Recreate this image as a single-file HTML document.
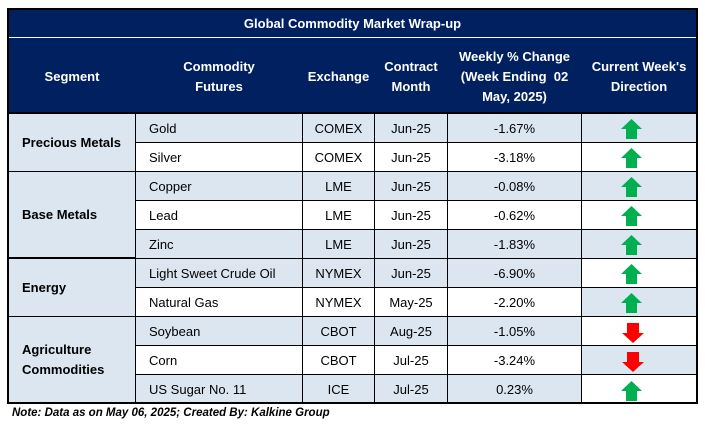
<!DOCTYPE html>
<html>
<head>
<meta charset="utf-8">
<style>
  html,body{margin:0;padding:0;background:#fff;}
  #c{position:relative;width:705px;height:424px;overflow:hidden;background:#fff;font-family:"Liberation Sans",Arial,sans-serif;color:#000;}
  .a{position:absolute;}
  .sh{position:absolute;background:#DCE6F1;}
  .hl{position:absolute;height:1px;background:#000;}
  .vl{position:absolute;width:1px;background:#000;}
  .hd{position:absolute;top:40px;height:74px;display:flex;align-items:center;justify-content:center;text-align:center;color:#fff;font-weight:bold;font-size:13px;line-height:20px;}
  .cell{position:absolute;height:28px;display:flex;align-items:center;font-size:13px;white-space:nowrap;}
  .ctr{justify-content:center;}
  .seg{position:absolute;left:22px;display:flex;align-items:center;font-weight:bold;font-size:13px;line-height:20px;}
  svg{position:absolute;}
</style>
</head>
<body>
<div id="c">
  <!-- navy title/header -->
  <div class="a" style="left:7px;top:8px;width:691px;height:105px;background:#002060;"></div>
  <div class="a" style="left:9px;top:37px;width:687px;height:1px;background:#fff;"></div>
  <div class="a" style="left:7px;top:10px;width:691px;height:27px;display:flex;align-items:center;justify-content:center;color:#fff;font-weight:bold;font-size:13px;">Global Commodity Market Wrap-up</div>

  <!-- headers -->
  <div class="hd" style="left:9px;width:126px;">Segment</div>
  <div class="hd" style="left:136px;width:166px;">Commodity<br>Futures</div>
  <div class="hd" style="left:303px;width:71px;">Exchange</div>
  <div class="hd" style="left:375px;width:72px;">Contract<br>Month</div>
  <div class="hd" style="left:448px;width:133px;">Weekly % Change<br>(Week Ending&nbsp; 02<br>May, 2025)</div>
  <div class="hd" style="left:582px;width:114px;">Current Week's<br>Direction</div>

  <!-- shading -->
  <div class="sh" style="left:9px;top:113px;width:126px;height:290px;"></div>
  <!-- rows 0,2,4,5,7,9 for commodity..change -->
  <div class="sh" style="left:136px;top:113px;width:445px;height:29px;"></div>
  <div class="sh" style="left:136px;top:171px;width:445px;height:29px;"></div>
  <div class="sh" style="left:136px;top:229px;width:445px;height:58px;"></div>
  <div class="sh" style="left:136px;top:316px;width:445px;height:29px;"></div>
  <div class="sh" style="left:136px;top:374px;width:445px;height:29px;"></div>
  <!-- direction rows 0,2,4,6,8 -->
  <div class="sh" style="left:582px;top:113px;width:114px;height:29px;"></div>
  <div class="sh" style="left:582px;top:171px;width:114px;height:29px;"></div>
  <div class="sh" style="left:582px;top:229px;width:114px;height:29px;"></div>
  <div class="sh" style="left:582px;top:287px;width:114px;height:29px;"></div>
  <div class="sh" style="left:582px;top:345px;width:114px;height:29px;"></div>

  <!-- header bottom line -->
  <div class="a" style="left:7px;top:112px;width:691px;height:2px;background:#000;"></div>

  <!-- horizontal row lines (commodity..direction) -->
  <div class="hl" style="left:135px;top:142px;width:562px;"></div>
  <div class="hl" style="left:135px;top:171px;width:562px;"></div>
  <div class="hl" style="left:135px;top:200px;width:562px;"></div>
  <div class="hl" style="left:135px;top:229px;width:562px;"></div>
  <div class="hl" style="left:135px;top:258px;width:562px;"></div>
  <div class="hl" style="left:135px;top:287px;width:562px;"></div>
  <div class="hl" style="left:135px;top:316px;width:562px;"></div>
  <div class="hl" style="left:135px;top:345px;width:562px;"></div>
  <div class="hl" style="left:135px;top:374px;width:562px;"></div>
  <!-- segment section lines -->
  <div class="hl" style="left:7px;top:171px;width:129px;"></div>
  <div class="a" style="left:7px;top:257px;width:129px;height:2px;background:#000;"></div>
  <div class="hl" style="left:7px;top:316px;width:129px;"></div>

  <!-- vertical lines -->
  <div class="vl" style="left:135px;top:113px;height:290px;"></div>
  <div class="vl" style="left:302px;top:113px;height:290px;"></div>
  <div class="vl" style="left:374px;top:113px;height:290px;"></div>
  <div class="vl" style="left:447px;top:113px;height:290px;"></div>
  <div class="vl" style="left:581px;top:113px;height:290px;"></div>

  <!-- outer border -->
  <div class="a" style="left:7px;top:8px;width:691px;height:396px;border:2px solid #000;box-sizing:border-box;"></div>

  <!-- segment labels -->
  <div class="seg" style="top:114px;height:57px;">Precious Metals</div>
  <div class="seg" style="top:172px;height:86px;">Base Metals</div>
  <div class="seg" style="top:259px;height:57px;">Energy</div>
  <div class="seg" style="top:317px;height:86px;">Agriculture<br>Commodities</div>

  <!-- Row 0 Gold -->
  <div class="cell" style="left:149px;top:114px;">Gold</div>
  <div class="cell ctr" style="left:303px;width:71px;top:114px;">COMEX</div>
  <div class="cell ctr" style="left:375px;width:72px;top:114px;">Jun-25</div>
  <div class="cell ctr" style="left:448px;width:133px;top:114px;">-1.67%</div>
  <!-- Row 1 Silver -->
  <div class="cell" style="left:149px;top:143px;">Silver</div>
  <div class="cell ctr" style="left:303px;width:71px;top:143px;">COMEX</div>
  <div class="cell ctr" style="left:375px;width:72px;top:143px;">Jun-25</div>
  <div class="cell ctr" style="left:448px;width:133px;top:143px;">-3.18%</div>
  <!-- Row 2 Copper -->
  <div class="cell" style="left:149px;top:172px;">Copper</div>
  <div class="cell ctr" style="left:303px;width:71px;top:172px;">LME</div>
  <div class="cell ctr" style="left:375px;width:72px;top:172px;">Jun-25</div>
  <div class="cell ctr" style="left:448px;width:133px;top:172px;">-0.08%</div>
  <!-- Row 3 Lead -->
  <div class="cell" style="left:149px;top:201px;">Lead</div>
  <div class="cell ctr" style="left:303px;width:71px;top:201px;">LME</div>
  <div class="cell ctr" style="left:375px;width:72px;top:201px;">Jun-25</div>
  <div class="cell ctr" style="left:448px;width:133px;top:201px;">-0.62%</div>
  <!-- Row 4 Zinc -->
  <div class="cell" style="left:149px;top:230px;">Zinc</div>
  <div class="cell ctr" style="left:303px;width:71px;top:230px;">LME</div>
  <div class="cell ctr" style="left:375px;width:72px;top:230px;">Jun-25</div>
  <div class="cell ctr" style="left:448px;width:133px;top:230px;">-1.83%</div>
  <!-- Row 5 Crude -->
  <div class="cell" style="left:149px;top:259px;">Light Sweet Crude Oil</div>
  <div class="cell ctr" style="left:303px;width:71px;top:259px;">NYMEX</div>
  <div class="cell ctr" style="left:375px;width:72px;top:259px;">Jun-25</div>
  <div class="cell ctr" style="left:448px;width:133px;top:259px;">-6.90%</div>
  <!-- Row 6 NatGas -->
  <div class="cell" style="left:149px;top:288px;">Natural Gas</div>
  <div class="cell ctr" style="left:303px;width:71px;top:288px;">NYMEX</div>
  <div class="cell ctr" style="left:375px;width:72px;top:288px;">May-25</div>
  <div class="cell ctr" style="left:448px;width:133px;top:288px;">-2.20%</div>
  <!-- Row 7 Soybean -->
  <div class="cell" style="left:149px;top:317px;">Soybean</div>
  <div class="cell ctr" style="left:303px;width:71px;top:317px;">CBOT</div>
  <div class="cell ctr" style="left:375px;width:72px;top:317px;">Aug-25</div>
  <div class="cell ctr" style="left:448px;width:133px;top:317px;">-1.05%</div>
  <!-- Row 8 Corn -->
  <div class="cell" style="left:149px;top:346px;">Corn</div>
  <div class="cell ctr" style="left:303px;width:71px;top:346px;">CBOT</div>
  <div class="cell ctr" style="left:375px;width:72px;top:346px;">Jul-25</div>
  <div class="cell ctr" style="left:448px;width:133px;top:346px;">-3.24%</div>
  <!-- Row 9 Sugar -->
  <div class="cell" style="left:149px;top:375px;">US Sugar No. 11</div>
  <div class="cell ctr" style="left:303px;width:71px;top:375px;">ICE</div>
  <div class="cell ctr" style="left:375px;width:72px;top:375px;">Jul-25</div>
  <div class="cell ctr" style="left:448px;width:133px;top:375px;">0.23%</div>

  <!-- arrows -->
  <svg style="left:621px;top:119px;" width="21" height="20" viewBox="0 0 21 20"><polygon fill="#00B050" points="10.5,0 21,10 16,10 16,20 5,20 5,10 0,10"/></svg>
  <svg style="left:621px;top:148px;" width="21" height="20" viewBox="0 0 21 20"><polygon fill="#00B050" points="10.5,0 21,10 16,10 16,20 5,20 5,10 0,10"/></svg>
  <svg style="left:621px;top:177px;" width="21" height="20" viewBox="0 0 21 20"><polygon fill="#00B050" points="10.5,0 21,10 16,10 16,20 5,20 5,10 0,10"/></svg>
  <svg style="left:621px;top:206px;" width="21" height="20" viewBox="0 0 21 20"><polygon fill="#00B050" points="10.5,0 21,10 16,10 16,20 5,20 5,10 0,10"/></svg>
  <svg style="left:621px;top:235px;" width="21" height="20" viewBox="0 0 21 20"><polygon fill="#00B050" points="10.5,0 21,10 16,10 16,20 5,20 5,10 0,10"/></svg>
  <svg style="left:621px;top:264px;" width="21" height="20" viewBox="0 0 21 20"><polygon fill="#00B050" points="10.5,0 21,10 16,10 16,20 5,20 5,10 0,10"/></svg>
  <svg style="left:621px;top:293px;" width="21" height="20" viewBox="0 0 21 20"><polygon fill="#00B050" points="10.5,0 21,10 16,10 16,20 5,20 5,10 0,10"/></svg>
  <svg style="left:622px;top:323px;" width="22" height="20" viewBox="0 0 22 20"><polygon fill="#FF0000" points="5,0 17,0 17,10 22,10 11,20 0,10 5,10"/></svg>
  <svg style="left:622px;top:352px;" width="22" height="20" viewBox="0 0 22 20"><polygon fill="#FF0000" points="5,0 17,0 17,10 22,10 11,20 0,10 5,10"/></svg>
  <svg style="left:621px;top:381px;" width="21" height="20" viewBox="0 0 21 20"><polygon fill="#00B050" points="10.5,0 21,10 16,10 16,20 5,20 5,10 0,10"/></svg>

  <!-- footer -->
  <div class="a" style="left:12px;top:404px;height:17px;display:flex;align-items:center;font-weight:bold;font-style:italic;font-size:11.5px;white-space:nowrap;">Note: Data as on May 06, 2025; Created By: Kalkine Group</div>
</div>
</body>
</html>
